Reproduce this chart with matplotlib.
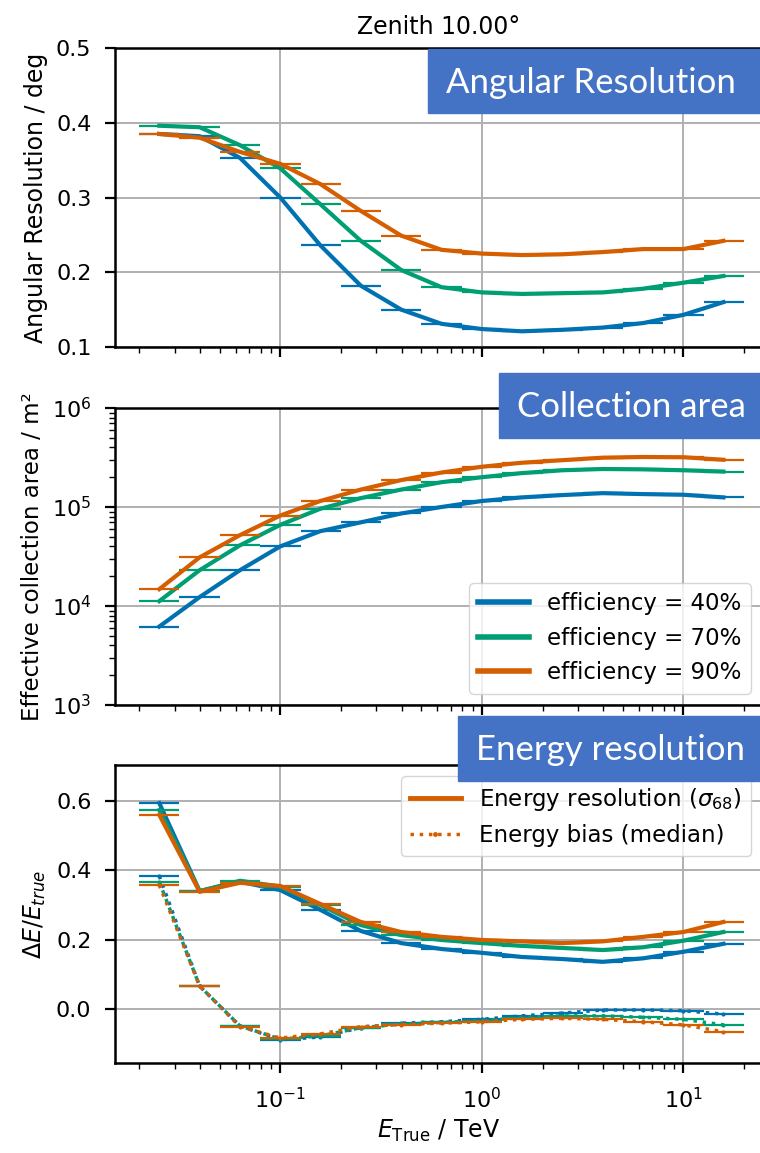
import matplotlib
matplotlib.use("Agg")
import matplotlib.pyplot as plt
from matplotlib.patches import Rectangle
from matplotlib.lines import Line2D
import numpy as np

# ---------------- data ----------------
energy_tev = [0.0251, 0.0398, 0.0631, 0.1, 0.158, 0.251, 0.398, 0.631,
              1.0, 1.58, 2.51, 3.98, 6.31, 10.0, 15.8]
energy_lo = [0.02, 0.0316, 0.0501, 0.0794, 0.126, 0.2, 0.316, 0.501,
             0.794, 1.26, 2.0, 3.16, 5.01, 7.94, 12.6]
energy_hi = [0.0316, 0.0501, 0.0794, 0.126, 0.2, 0.316, 0.501, 0.794,
             1.26, 2.0, 3.16, 5.01, 7.94, 12.6, 20.0]

efficiency_labels = ["efficiency = 40%", "efficiency = 70%", "efficiency = 90%"]
colors = ["#0072B2", "#009E73", "#D55E00"]

angres_40 = [0.385, 0.382, 0.353, 0.300, 0.236, 0.182, 0.150, 0.131,
             0.124, 0.121, 0.123, 0.126, 0.132, 0.143, 0.160]
angres_70 = [0.396, 0.394, 0.370, 0.339, 0.291, 0.242, 0.203, 0.180,
             0.173, 0.171, 0.172, 0.173, 0.178, 0.186, 0.195]
angres_90 = [0.385, 0.380, 0.361, 0.345, 0.318, 0.282, 0.249, 0.230,
             0.225, 0.223, 0.224, 0.227, 0.231, 0.231, 0.242]

area_40 = [6.2e3, 1.23e4, 2.3e4, 4.0e4, 5.7e4, 7.0e4, 8.6e4, 1.0e5,
           1.15e5, 1.25e5, 1.32e5, 1.38e5, 1.35e5, 1.33e5, 1.25e5]
area_70 = [1.12e4, 2.3e4, 4.1e4, 6.6e4, 9.6e4, 1.23e5, 1.5e5, 1.78e5,
           2.0e5, 2.2e5, 2.35e5, 2.42e5, 2.4e5, 2.35e5, 2.28e5]
area_90 = [1.48e4, 3.1e4, 5.2e4, 8.2e4, 1.15e5, 1.5e5, 1.87e5, 2.23e5,
           2.55e5, 2.8e5, 2.97e5, 3.15e5, 3.2e5, 3.18e5, 3.0e5]

eres_40 = [0.594, 0.340, 0.367, 0.343, 0.286, 0.225, 0.190, 0.173,
           0.162, 0.150, 0.144, 0.136, 0.146, 0.165, 0.188]
eres_70 = [0.574, 0.340, 0.370, 0.353, 0.300, 0.242, 0.213, 0.199,
           0.190, 0.182, 0.176, 0.170, 0.178, 0.197, 0.222]
eres_90 = [0.560, 0.338, 0.364, 0.355, 0.303, 0.251, 0.222, 0.208,
           0.199, 0.195, 0.190, 0.195, 0.208, 0.222, 0.251]

ebias_40 = [0.384, 0.066, -0.049, -0.089, -0.081, -0.054, -0.041, -0.037,
            -0.030, -0.020, -0.012, -0.003, -0.003, -0.005, -0.015]
ebias_70 = [0.367, 0.066, -0.049, -0.087, -0.078, -0.054, -0.044, -0.039,
            -0.034, -0.025, -0.020, -0.020, -0.024, -0.030, -0.046]
ebias_90 = [0.358, 0.066, -0.051, -0.084, -0.072, -0.051, -0.045, -0.041,
            -0.037, -0.030, -0.027, -0.030, -0.037, -0.046, -0.066]

angres = [angres_40, angres_70, angres_90]
areas = [area_40, area_70, area_90]
eres = [eres_40, eres_70, eres_90]
ebias = [ebias_40, ebias_70, ebias_90]

# ---------------- figure ----------------
W, H = 760, 1153
fig = plt.figure(figsize=(W / 100, H / 100), dpi=100)
plt.rcParams["font.family"] = ["DejaVu Sans"]

x_left, x_right = 115, 762


def axes_px(top, bottom):
    return fig.add_axes([x_left / W, 1 - bottom / H, (x_right - x_left) / W,
                         (bottom - top) / H])


ax1 = axes_px(48, 347)
ax2 = axes_px(408, 705)
ax3 = axes_px(765, 1063)

e = np.array(energy_tev)
xerr = np.array([e - np.array(energy_lo), np.array(energy_hi) - e])

FS = 17
TFS = 16
LFS = 16.5
for ax in (ax1, ax2, ax3):
    ax.set_xscale("log")
    ax.set_xlim(10 ** -1.82, 10 ** 1.39)
    ax.grid(True, which="major", color="#b0b0b0", lw=1.4)
    ax.set_axisbelow(True)
    for s in ax.spines.values():
        s.set_linewidth(1.8)
    ax.tick_params(which="major", length=7, width=1.6, labelsize=TFS, pad=10)
    ax.tick_params(which="minor", length=4, width=1.0)

# top panel
for vals, c in zip(angres, colors):
    ax1.errorbar(e, vals, xerr=xerr, fmt="none", ecolor=c, elinewidth=1.6)
    ax1.plot(e, vals, color=c, lw=3)
ax1.set_ylim(0.1, 0.5)
ax1.set_yticks([0.1, 0.2, 0.3, 0.4, 0.5])
ax1.set_ylabel("Angular Resolution / deg", fontsize=FS, labelpad=6)
ax1.tick_params(labelbottom=False)
ax1.set_title("Zenith 10.00°", fontsize=FS, pad=10)

# middle panel
handles = []
for vals, c, lab in zip(areas, colors, efficiency_labels):
    ax2.errorbar(e, vals, xerr=xerr, fmt="none", ecolor=c, elinewidth=1.6)
    ax2.plot(e, vals, color=c, lw=3)
    handles.append(Line2D([], [], color=c, lw=4, label=lab))
ax2.set_yscale("log")
ax2.set_ylim(1e3, 1e6)
ax2.set_ylabel("Effective collection area / m²", fontsize=FS - 0.5, labelpad=6)
ax2.tick_params(labelbottom=False)
ax2.legend(handles=handles, loc="lower right", fontsize=LFS, framealpha=0.8,
           handlelength=2.2)

# bottom panel
for r, b, c in zip(eres, ebias, colors):
    ax3.errorbar(e, r, xerr=xerr, fmt="none", ecolor=c, elinewidth=1.6)
    ax3.plot(e, r, color=c, lw=3)
    ax3.errorbar(e, b, xerr=xerr, fmt="none", ecolor=c, elinewidth=1.6)
    ax3.plot(e, b, color=c, lw=2.5, ls=":", marker=".", ms=4)
ax3.set_ylim(-0.156, 0.704)
ax3.set_yticks([0.0, 0.2, 0.4, 0.6])
ax3.set_ylabel(r"$\Delta E/E_{true}$", fontsize=FS, labelpad=6)
ax3.set_xlabel(r"$E_\mathrm{True}$ / TeV", fontsize=FS, labelpad=4)
leg_handles = [Line2D([], [], color=colors[2], lw=3.5,
                      label=r"Energy resolution ($\sigma_{68}$)"),
               Line2D([], [], color=colors[2], lw=2.5, ls=":", marker=".",
                      ms=5, label="Energy bias (median)")]
ax3.legend(handles=leg_handles, loc="upper right", fontsize=LFS,
           framealpha=0.8, handlelength=2.2)

# annotation boxes
box_color = "#4472C4"
boxes = [
    (428, 49, 760, 113, "Angular Resolution", 591, 93),
    (499, 373, 760, 438, "Collection area", 631, 417),
    (458, 716, 760, 781, "Energy resolution", 611, 760),
]
for x0, y0, x1, y1, txt, tx, ty in boxes:
    fig.add_artist(Rectangle((x0 / W, 1 - y1 / H), (x1 - x0) / W, (y1 - y0) / H,
                             transform=fig.transFigure, color=box_color,
                             zorder=10))
    fig.text(tx / W, 1 - ty / H, txt, color="white", fontsize=25,
             family="Lato", ha="center", va="baseline", zorder=11)

fig.savefig("out.png", dpi=100)
